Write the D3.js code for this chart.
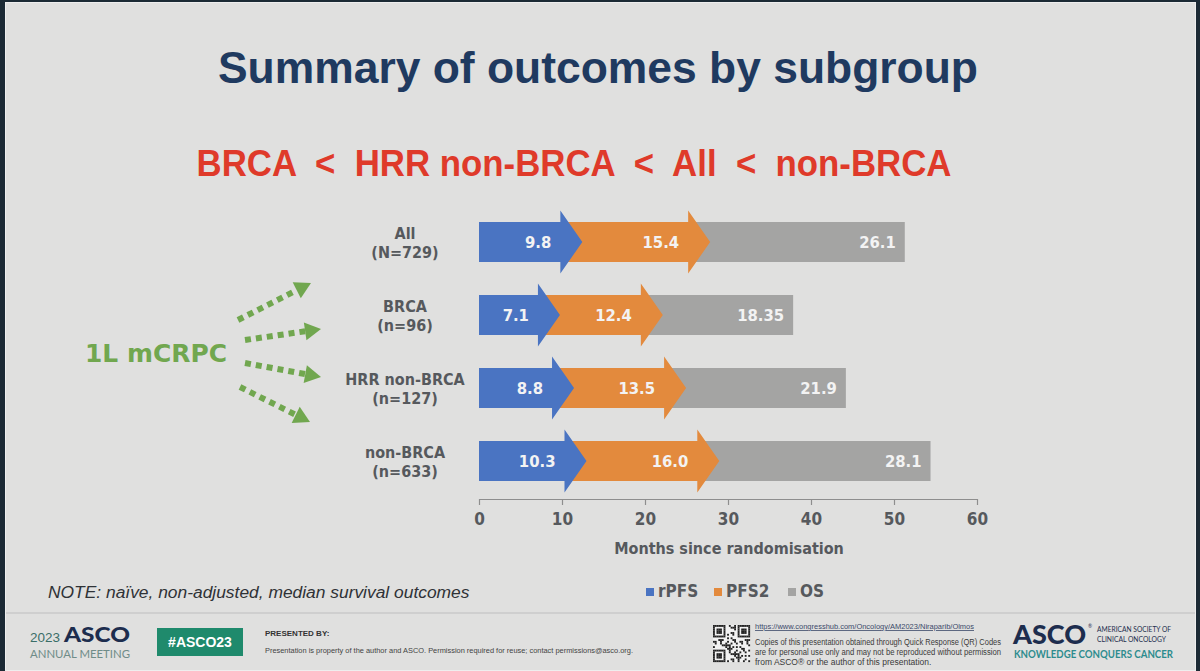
<!DOCTYPE html>
<html>
<head>
<meta charset="utf-8">
<script src="https://cdn.jsdelivr.net/npm/d3@7"></script>
<style>
  html, body { margin: 0; padding: 0; background: #1c2a35; }
  svg { display: block; }
  text { white-space: pre; }
</style>
</head>
<body>
<svg id="chart" width="1200" height="671"></svg>
<script>
// ---------------- data ----------------
const categories = ["All", "BRCA", "HRR non-BRCA", "non-BRCA"];
const subLabels = ["(N=729)", "(n=96)", "(n=127)", "(n=633)"];
const seriesNames = ["rPFS", "PFS2", "OS"];
const rPFS = [9.8, 7.1, 8.8, 10.3];
const PFS2 = [15.4, 12.4, 13.5, 16.0];
const OS = [26.1, 18.35, 21.9, 28.1];
const xTicks = [0, 10, 20, 30, 40, 50, 60];
const colors = ["#4a74c2", "#e38a3d", "#a4a4a3"];
const titleText = "Summary of outcomes by subgroup";
const subtitleText = "BRCA  <  HRR non-BRCA  <  All  <  non-BRCA";
const axisTitle = "Months since randomisation";
const noteText = "NOTE: naïve, non-adjusted, median survival outcomes";
const sideLabel = "1L mCRPC";

// ---------------- setup ----------------
const svg = d3.select("#chart");
const labelFont = "'DejaVu Sans', Verdana, sans-serif";
const grayText = "#56595d";

// slide background
svg.append("rect").attr("x", 0).attr("y", 0).attr("width", 1200).attr("height", 671).attr("fill", "#1c2a35");
svg.append("rect").attr("x", 5).attr("y", 2).attr("width", 1191).attr("height", 669).attr("fill", "#e0e0df");
svg.append("rect").attr("x", 5.5).attr("y", 2.5).attr("width", 1190).attr("height", 668).attr("fill", "none").attr("stroke", "#eeeeee").attr("stroke-width", 1);

// title
svg.append("text").attr("x", 598).attr("y", 83).attr("text-anchor", "middle")
  .attr("font-family", "'Liberation Sans', Arial, sans-serif").attr("font-weight", "bold").attr("font-size", 45)
  .attr("fill", "#1f3a60").attr("textLength", 760).attr("lengthAdjust", "spacingAndGlyphs")
  .text(titleText);

// subtitle
svg.append("text").attr("x", 574).attr("y", 176).attr("text-anchor", "middle")
  .attr("font-family", "'Liberation Sans', Arial, sans-serif").attr("font-weight", "bold").attr("font-size", 36)
  .attr("fill", "#df3a2a").attr("textLength", 755).attr("lengthAdjust", "spacingAndGlyphs")
  .text(subtitleText);

// ---------------- scales ----------------
const x = d3.scaleLinear().domain([0, 60]).range([479, 977]);
const y = d3.scalePoint().domain(categories).range([242, 461]);
const barH = 40, headH = 63, headL = 22;

// stacked data
const rows = categories.map((c, i) => {
  const vals = [rPFS[i], PFS2[i], OS[i]];
  let acc = 0;
  const segs = vals.map((v, k) => { const s = acc; acc += v; return { k, v, s, e: acc }; });
  return { c, i, segs };
});

const fmt = v => Number.isInteger(Math.round(v * 100) / 10) ? v.toFixed(1) : String(v);

const barsG = svg.append("g");
rows.forEach(r => {
  const cy = y(r.c);
  const g = barsG.append("g");
  // draw from last segment to first so arrow heads overlap the next segment
  [...r.segs].reverse().forEach(sg => {
    const x0 = x(sg.s), x1 = x(sg.e);
    const t = cy - barH / 2, b = cy + barH / 2;
    if (sg.k < 2) {
      const p = d3.path();
      p.moveTo(x0, t); p.lineTo(x1, t); p.lineTo(x1, cy - headH / 2);
      p.lineTo(x1 + headL, cy); p.lineTo(x1, cy + headH / 2); p.lineTo(x1, b);
      p.lineTo(x0, b); p.closePath();
      g.append("path").attr("d", p.toString()).attr("fill", colors[sg.k]);
    } else {
      g.append("rect").attr("x", x0).attr("y", t).attr("width", x1 - x0).attr("height", barH).attr("fill", colors[sg.k]);
    }
  });
  r.segs.forEach(sg => {
    g.append("text").attr("x", x(sg.e) - 9).attr("y", cy + 6).attr("text-anchor", "end")
      .attr("font-family", labelFont).attr("font-stretch", "condensed").attr("font-weight", "bold")
      .attr("font-size", 16.5).attr("fill", "#f3f3f3").text(fmt(sg.v));
  });
  // category labels
  svg.append("text").attr("x", 405).attr("y", cy - 3).attr("text-anchor", "middle")
    .attr("font-family", labelFont).attr("font-stretch", "condensed").attr("font-weight", "bold")
    .attr("font-size", 16).attr("fill", grayText).text(r.c);
  svg.append("text").attr("x", 405).attr("y", cy + 16).attr("text-anchor", "middle")
    .attr("font-family", labelFont).attr("font-stretch", "condensed").attr("font-weight", "bold")
    .attr("font-size", 16).attr("fill", grayText).text(subLabels[r.i]);
});

// ---------------- axis ----------------
const axisG = svg.append("g").attr("transform", "translate(0,499)")
  .call(d3.axisBottom(x).tickValues(xTicks).tickSize(6).tickPadding(8).tickSizeOuter(0));
axisG.select(".domain").attr("stroke", "#8e8e8e").attr("stroke-width", 1.2);
axisG.selectAll(".tick line").attr("stroke", "#8e8e8e").attr("stroke-width", 1.2);
axisG.selectAll(".tick text").attr("font-family", labelFont).attr("font-stretch", "condensed")
  .attr("font-weight", "bold").attr("font-size", 17).attr("fill", grayText);

svg.append("text").attr("x", 729).attr("y", 554).attr("text-anchor", "middle")
  .attr("font-family", labelFont).attr("font-stretch", "condensed").attr("font-weight", "bold")
  .attr("font-size", 16).attr("fill", grayText).text(axisTitle);

// ---------------- legend ----------------
const legendX = [646, 714, 788];
seriesNames.forEach((n, k) => {
  svg.append("rect").attr("x", legendX[k]).attr("y", 588).attr("width", 8).attr("height", 8).attr("fill", colors[k]);
  svg.append("text").attr("x", legendX[k] + 12).attr("y", 597)
    .attr("font-family", labelFont).attr("font-stretch", "condensed").attr("font-weight", "bold")
    .attr("font-size", 17).attr("fill", grayText).text(n);
});

// note
svg.append("text").attr("x", 48).attr("y", 598)
  .attr("font-family", "'Liberation Sans', Arial, sans-serif").attr("font-style", "italic")
  .attr("font-size", 17.4).attr("fill", "#2f3236").text(noteText);

// ---------------- side label with dotted arrows ----------------
const green = "#71a74f";
svg.append("text").attr("x", 156).attr("y", 362).attr("text-anchor", "middle")
  .attr("font-family", labelFont).attr("font-weight", "bold")
  .attr("font-size", 24).attr("fill", green).attr("textLength", 142).attr("lengthAdjust", "spacingAndGlyphs")
  .text(sideLabel);

const fan = [
  { x1: 238, y1: 320, x2: 311, y2: 283 },
  { x1: 245, y1: 340, x2: 321, y2: 329 },
  { x1: 245, y1: 363, x2: 321, y2: 377 },
  { x1: 240, y1: 387, x2: 310, y2: 422 }
];
fan.forEach(a => {
  const dx = a.x2 - a.x1, dy = a.y2 - a.y1, L = Math.hypot(dx, dy);
  const ux = dx / L, uy = dy / L, hl = 16, hw = 9;
  const bx = a.x2 - ux * hl, by = a.y2 - uy * hl;
  svg.append("line").attr("x1", a.x1).attr("y1", a.y1).attr("x2", bx).attr("y2", by)
    .attr("stroke", green).attr("stroke-width", 6).attr("stroke-dasharray", "6,5");
  svg.append("path")
    .attr("d", `M${a.x2},${a.y2} L${bx - uy * hw},${by + ux * hw} L${bx + uy * hw},${by - ux * hw} Z`)
    .attr("fill", green);
});

// ---------------- footer ----------------
svg.append("line").attr("x1", 6).attr("x2", 1195).attr("y1", 613).attr("y2", 613).attr("stroke", "#cacaca").attr("stroke-width", 1.5);

svg.append("text").attr("x", 30).attr("y", 642).attr("font-family", "'Liberation Sans', Arial, sans-serif")
  .attr("font-size", 13).attr("fill", "#3a6e68").attr("textLength", 30).attr("lengthAdjust", "spacingAndGlyphs").text("2023");
svg.append("text").attr("x", 64).attr("y", 642).attr("font-family", "Lato, 'Liberation Sans', sans-serif")
  .attr("font-weight", 900).attr("font-size", 20).attr("fill", "#1d2d4e").attr("textLength", 66).attr("lengthAdjust", "spacingAndGlyphs").text("ASCO");
svg.append("text").attr("x", 30).attr("y", 658).attr("font-family", "Lato, 'Liberation Sans', sans-serif")
  .attr("font-size", 10.5).attr("fill", "#6f8c88").attr("textLength", 100).attr("lengthAdjust", "spacingAndGlyphs").text("ANNUAL MEETING");

svg.append("rect").attr("x", 157).attr("y", 628).attr("width", 86).attr("height", 28).attr("fill", "#1f8a6c");
svg.append("text").attr("x", 200).attr("y", 647).attr("text-anchor", "middle")
  .attr("font-family", "'Liberation Sans', Arial, sans-serif").attr("font-weight", "bold").attr("font-size", 14)
  .attr("fill", "#ffffff").text("#ASCO23");

svg.append("text").attr("x", 265).attr("y", 636).attr("font-family", "'Liberation Sans', Arial, sans-serif")
  .attr("font-weight", "bold").attr("font-size", 8).attr("fill", "#333").text("PRESENTED BY:");
svg.append("text").attr("x", 265).attr("y", 653).attr("font-family", "'Liberation Sans', Arial, sans-serif")
  .attr("font-size", 7.5).attr("fill", "#444").attr("textLength", 368).attr("lengthAdjust", "spacingAndGlyphs")
  .text("Presentation is property of the author and ASCO. Permission required for reuse; contact permissions@asco.org.");

// QR code decoration
const qr = svg.append("g").attr("transform", "translate(713,625)");
qr.append("rect").attr("width", 37).attr("height", 37).attr("fill", "#f2f2f2");
const cell = 37 / 21;
for (let r = 0; r < 21; r++) for (let c = 0; c < 21; c++) {
  const inFinder = (rr, cc) => rr >= 0 && rr < 7 && cc >= 0 && cc < 7;
  let on = false;
  const f = [[r, c], [r, c - 14], [r - 14, c]].find(([rr, cc]) => inFinder(rr, cc));
  if (f) {
    const [rr, cc] = f;
    on = rr === 0 || rr === 6 || cc === 0 || cc === 6 || (rr >= 2 && rr <= 4 && cc >= 2 && cc <= 4);
  } else if (!((r < 8 && c < 8) || (r < 8 && c > 12) || (r > 12 && c < 8))) {
    on = ((r * 7 + c * 11 + (r * c) % 5) % 3) === 0;
  }
  if (on) qr.append("rect").attr("x", c * cell).attr("y", r * cell).attr("width", cell + 0.1).attr("height", cell + 0.1).attr("fill", "#222");
}

svg.append("text").attr("x", 755).attr("y", 629).attr("font-family", "'Liberation Sans', Arial, sans-serif")
  .attr("font-size", 8).attr("fill", "#3c4a6a").attr("text-decoration", "underline")
  .attr("textLength", 219).attr("lengthAdjust", "spacingAndGlyphs")
  .text("https://www.congresshub.com/Oncology/AM2023/Niraparib/Olmos");
const copies = [
  "Copies of this presentation obtained through Quick Response (QR) Codes",
  "are for personal use only and may not be reproduced without permission",
  "from ASCO® or the author of this presentation."
];
copies.forEach((t, i) => {
  const el = svg.append("text").attr("x", 755).attr("y", 645 + i * 10).attr("font-family", "'Liberation Sans', Arial, sans-serif")
    .attr("font-size", 8.5).attr("fill", "#3a3a3a").text(t);
  if (i < 2) el.attr("textLength", 246).attr("lengthAdjust", "spacingAndGlyphs");
});

svg.append("text").attr("x", 1013).attr("y", 644).attr("font-family", "Lato, 'Liberation Sans', sans-serif")
  .attr("font-weight", 900).attr("font-size", 27).attr("fill", "#1d2d4e").attr("textLength", 73).attr("lengthAdjust", "spacingAndGlyphs").text("ASCO");
svg.append("text").attr("x", 1088).attr("y", 628).attr("font-family", "Lato, sans-serif").attr("font-size", 5).attr("fill", "#1d2d4e").text("®");
svg.append("text").attr("x", 1097).attr("y", 632).attr("font-family", "Lato, 'Liberation Sans', sans-serif")
  .attr("font-size", 8).attr("fill", "#1d2d4e").attr("textLength", 74).attr("lengthAdjust", "spacingAndGlyphs").text("AMERICAN SOCIETY OF");
svg.append("text").attr("x", 1097).attr("y", 642).attr("font-family", "Lato, 'Liberation Sans', sans-serif")
  .attr("font-size", 8).attr("fill", "#1d2d4e").attr("textLength", 69).attr("lengthAdjust", "spacingAndGlyphs").text("CLINICAL ONCOLOGY");
svg.append("text").attr("x", 1014).attr("y", 658).attr("font-family", "Lato, 'Liberation Sans', sans-serif")
  .attr("font-weight", "bold").attr("font-size", 11).attr("fill", "#2d8c8e").attr("textLength", 159).attr("lengthAdjust", "spacingAndGlyphs")
  .text("KNOWLEDGE CONQUERS CANCER");
</script>
</body>
</html>
